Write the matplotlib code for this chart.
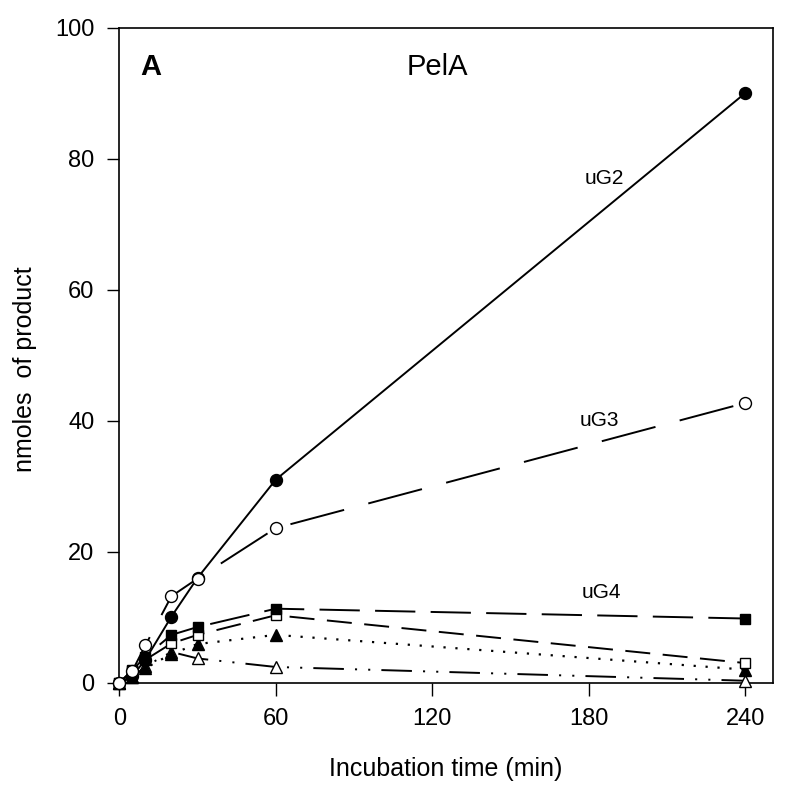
import matplotlib
matplotlib.use("Agg")
import matplotlib.pyplot as plt

plt.rcParams['font.family'] = ['Liberation Sans', 'DejaVu Sans']
plt.rcParams['lines.scale_dashes'] = False

# Data (minutes, nmoles of product)
time_min = [0, 5, 10, 20, 30, 60, 240]
uG2 = [0, 1.0, 3.5, 10.1, 16.0, 31.0, 90.0]
uG3 = [0, 1.8, 5.7, 13.2, 15.9, 23.6, 42.7]
uG4 = [0, 1.9, 4.0, 7.3, 8.5, 11.3, 9.8]
open_sq = [0, 1.8, 3.5, 6.0, 7.3, 10.3, 3.0]
filled_tri = [0, 0.9, 2.2, 4.4, 5.9, 7.3, 2.0]
open_tri = [0, 0.8, 2.5, 4.7, 3.7, 2.4, 0.3]

x_ticks = [0, 60, 120, 180, 240]
y_ticks = [0, 20, 40, 60, 80, 100]

fig = plt.figure(figsize=(7.86, 7.89), dpi=100)
W, H = 786, 789
left, right, top, bottom = 119.3, 773, 27.7, 682.7
ax = fig.add_axes([left / W, 1 - bottom / H, (right - left) / W, (bottom - top) / H])

lw = 1.4
ax.plot(time_min, open_tri, color='black', lw=lw, dashes=(22, 8, 1.5, 8, 1.5, 8),
        marker='^', ms=9, mfc='white', mec='black', mew=1.0, zorder=3)
ax.plot(time_min, filled_tri, color='black', lw=1.6, dashes=(1.6, 7),
        marker='^', ms=9, mfc='black', mec='black', mew=1.0, zorder=4)
ax.plot(time_min, open_sq, color='black', lw=lw, dashes=(18, 9),
        marker='s', ms=7.5, mfc='white', mec='black', mew=1.0, zorder=5)
ax.plot(time_min, uG4, color='black', lw=lw, dashes=(29, 11),
        marker='s', ms=7.5, mfc='black', mec='black', mew=1.0, zorder=6)
ax.plot(time_min, uG2, color='black', lw=lw, linestyle='-',
        marker='o', ms=8.6, mfc='black', mec='black', mew=1.0, zorder=7)
ax.plot(time_min, uG3, color='black', lw=lw, dashes=(40, 18),
        marker='o', ms=8.6, mfc='white', mec='black', mew=1.0, zorder=8)

ax.set_xlim(0, 250.7)
ax.set_ylim(0, 100)
ax.set_xticks(x_ticks)
ax.set_yticks(y_ticks)
ax.tick_params(direction='out', length=9, width=1.0, labelsize=17, pad=9)
for s in ax.spines.values():
    s.set_linewidth(1.2)
for ln in ax.lines:
    ln.set_clip_on(False)

ax.set_xlabel('Incubation time (min)', fontsize=18, labelpad=20)
ax.set_ylabel('nmoles  of product', fontsize=18)
ax.yaxis.set_label_coords(-0.126, 0.479)

ax.text(8, 94, 'A', fontsize=21, fontweight='bold', ha='left', va='center')
ax.text(122, 94, 'PelA', fontsize=21, ha='center', va='center')
ax.text(186, 77, 'uG2', fontsize=15, ha='center', va='center')
ax.text(184, 40, 'uG3', fontsize=15, ha='center', va='center')
ax.text(185, 13.7, 'uG4', fontsize=15, ha='center', va='center')

fig.savefig('out.png', dpi=100)
